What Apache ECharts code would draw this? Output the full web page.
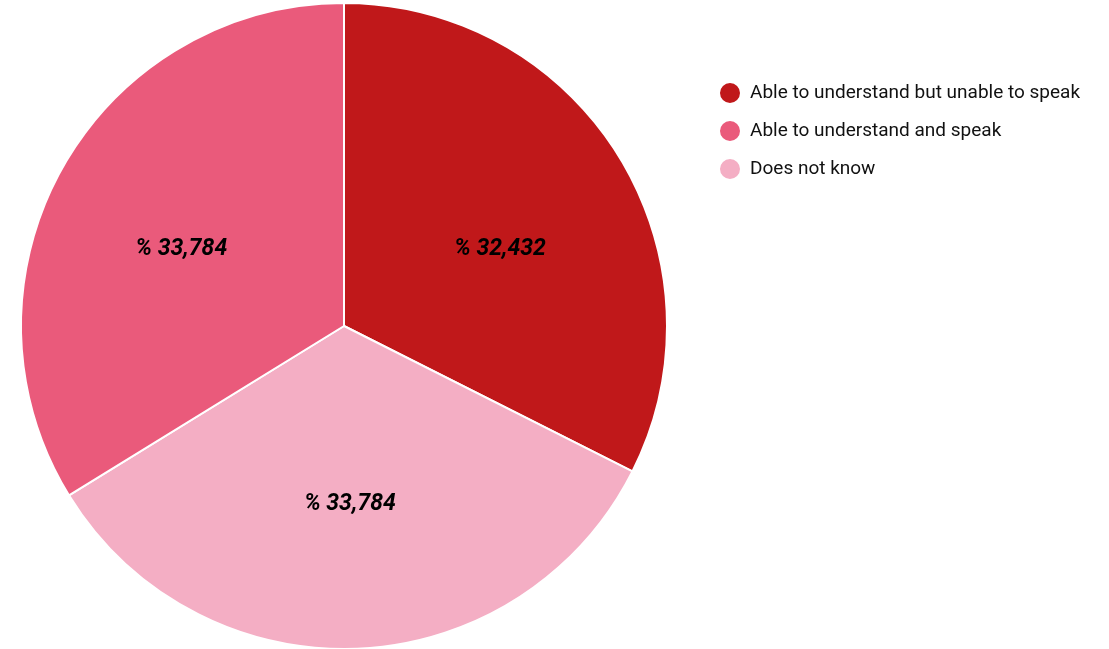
<!DOCTYPE html>
<html>
<head>
<meta charset="utf-8">
<script src="https://cdn.jsdelivr.net/npm/echarts@6/dist/echarts.min.js"></script>
<style>
  html, body { margin: 0; padding: 0; background: #ffffff; }
  #chart { width: 1109px; height: 649px; }
</style>
</head>
<body>
<div id="chart"></div>
<script>
// Slices in drawing order (clockwise from 12 o'clock)
const categories = [
  'Able to understand but unable to speak',
  'Does not know',
  'Able to understand and speak'
];
const shares = [32.432, 33.784, 33.784];
const colors = ['#C0181A', '#F4AEC4', '#EA5A7B'];
// Legend lists the groups in this order
const legendOrder = [
  'Able to understand but unable to speak',
  'Able to understand and speak',
  'Does not know'
];
// Nudge of each inside label from its default spot
const labelOffsets = [[16, 10], [-1, 14], [-19, 3]];

function fmt(v) {
  return '% ' + v.toFixed(3).replace('.', ',');
}

const chart = echarts.init(document.getElementById('chart'), null, { renderer: 'canvas' });
chart.setOption({
  animation: false,
  legend: {
    data: legendOrder,
    orient: 'vertical',
    left: 718,
    top: 81,
    padding: 0,
    icon: 'circle',
    itemWidth: 22,
    itemHeight: 22,
    itemGap: 14,
    textStyle: {
      fontFamily: 'Roboto',
      fontSize: 19,
      color: '#111111',
      padding: [0, 0, 0, 4]
    }
  },
  series: [{
    type: 'pie',
    center: [344, 326],
    radius: 323,
    startAngle: 90,
    clockwise: true,
    avoidLabelOverlap: false,
    itemStyle: { borderColor: '#ffffff', borderWidth: 2 },
    label: {
      show: true,
      position: 'inside',
      fontFamily: 'Roboto',
      fontSize: 23,
      fontWeight: 'bold',
      fontStyle: 'italic',
      color: '#000000',
      formatter: p => fmt(p.value)
    },
    labelLine: { show: false },
    emphasis: { disabled: true },
    data: categories.map((name, i) => ({
      name: name,
      value: shares[i],
      itemStyle: { color: colors[i] },
      label: { offset: labelOffsets[i] }
    }))
  }]
});
</script>
</body>
</html>
